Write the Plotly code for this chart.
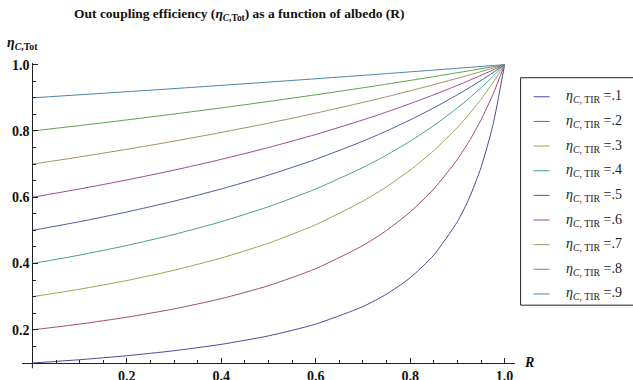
import plotly.graph_objects as go

# ---- data ----
R = [0, 0.1, 0.2, 0.3, 0.4, 0.5, 0.6, 0.7, 0.75, 0.8, 0.85, 0.9, 0.925, 0.95, 0.975, 1.0]

eta_01 = [0.1, 0.1099, 0.1220, 0.1370, 0.1563, 0.1818, 0.2174, 0.2703, 0.3077, 0.3571, 0.4255, 0.5263, 0.5970, 0.6897, 0.8163, 1.0]
eta_02 = [0.2, 0.2174, 0.2381, 0.2632, 0.2941, 0.3333, 0.3846, 0.4545, 0.5, 0.5556, 0.625, 0.7143, 0.7692, 0.8333, 0.9091, 1.0]
eta_03 = [0.3, 0.3226, 0.3488, 0.3797, 0.4167, 0.4615, 0.5172, 0.5882, 0.6316, 0.6818, 0.7407, 0.8108, 0.8511, 0.8955, 0.9449, 1.0]
eta_04 = [0.4, 0.4255, 0.4545, 0.4878, 0.5263, 0.5714, 0.625, 0.6897, 0.7273, 0.7692, 0.8163, 0.8696, 0.8989, 0.9302, 0.9639, 1.0]
eta_05 = [0.5, 0.5263, 0.5556, 0.5882, 0.625, 0.6667, 0.7143, 0.7692, 0.8, 0.8333, 0.8696, 0.9091, 0.9302, 0.9524, 0.9756, 1.0]
eta_06 = [0.6, 0.625, 0.6522, 0.6818, 0.7143, 0.75, 0.7895, 0.8333, 0.8571, 0.8824, 0.9091, 0.9375, 0.9524, 0.9677, 0.9836, 1.0]
eta_07 = [0.7, 0.7216, 0.7447, 0.7692, 0.7955, 0.8235, 0.8537, 0.8861, 0.9032, 0.9211, 0.9396, 0.9589, 0.9689, 0.9790, 0.9894, 1.0]
eta_08 = [0.8, 0.8163, 0.8333, 0.8511, 0.8696, 0.8889, 0.9091, 0.9302, 0.9412, 0.9524, 0.9639, 0.9756, 0.9816, 0.9877, 0.9938, 1.0]
eta_09 = [0.9, 0.9091, 0.9184, 0.9278, 0.9375, 0.9474, 0.9574, 0.9677, 0.9730, 0.9783, 0.9836, 0.9890, 0.9917, 0.9945, 0.9972, 1.0]

series = [eta_01, eta_02, eta_03, eta_04, eta_05, eta_06, eta_07, eta_08, eta_09]
labels = [".1", ".2", ".3", ".4", ".5", ".6", ".7", ".8", ".9"]
colors = ["#4a4a9c", "#a34a78", "#a8a04e", "#4aa08a", "#4a5e9c",
          "#a04a94", "#a3906a", "#5aa34a", "#4a84a8"]

x_ticks = [0.2, 0.4, 0.6, 0.8, 1.0]
y_ticks = [0.2, 0.4, 0.6, 0.8, 1.0]

# ---- layout geometry (pixels) ----
W, H = 633, 380
X0, X1 = -0.022, 1.022
Y0, Y1 = 0.1, 1.005
L, Rm, T, B = 22.4, 117.6, 63.3, 17.3
pw, ph = W - L - Rm, H - T - B

def px(x):
    return (x - L) / pw

def py(y):
    return (H - B - y) / ph

SERIF = "Liberation Serif, Times New Roman, serif"

fig = go.Figure()
for vals, lab, col in zip(series, labels, colors):
    fig.add_trace(go.Scatter(x=R, y=vals, mode="lines", line=dict(color=col, width=1, shape="spline", smoothing=0.6),
                             name=lab, showlegend=False, hoverinfo="skip", cliponaxis=False))

shapes = []
annotations = []
# small extension of the vertical axis below the horizontal one
shapes.append(dict(type="line", xref="paper", yref="paper", x0=px(32.8), x1=px(32.8), y0=py(368), y1=py(362.7),
                   line=dict(color="#222", width=1)))
# legend box
shapes.append(dict(type="rect", xref="paper", yref="paper", x0=px(521), x1=px(660), y0=py(305), y1=py(78),
                   line=dict(color="#222", width=1), fillcolor="white", layer="above"))
for i, (lab, col) in enumerate(zip(labels, colors)):
    yc = 97 + i * 24.6
    shapes.append(dict(type="line", xref="paper", yref="paper", x0=px(534), x1=px(550), y0=py(yc), y1=py(yc),
                       line=dict(color=col, width=1), layer="above"))
    annotations.append(dict(xref="paper", yref="paper", x=px(564), y=py(yc), xanchor="left", yanchor="middle",
                            showarrow=False,
                            text="<i>η</i><sub><i>C</i>, TIR</sub> =" + lab,
                            font=dict(family=SERIF, size=14, color="#222")))

# title, axis labels
annotations.append(dict(xref="paper", yref="paper", x=px(240), y=py(15), xanchor="center", yanchor="middle",
                        showarrow=False,
                        text="<b>Out coupling efficiency (<i>η</i><sub><i>C</i>,Tot</sub>) as a function of albedo (R)</b>",
                        font=dict(family=SERIF, size=13.5, color="#111")))
annotations.append(dict(xref="paper", yref="paper", x=px(5), y=py(44), xanchor="left", yanchor="middle",
                        showarrow=False,
                        text="<b><i>η</i><sub><i>C</i>,Tot</sub></b>",
                        font=dict(family=SERIF, size=14, color="#111")))
annotations.append(dict(xref="paper", yref="paper", x=px(522), y=py(362), xanchor="left", yanchor="middle",
                        showarrow=False, text="<b><i>R</i></b>",
                        font=dict(family=SERIF, size=14, color="#111")))

fig.update_layout(
    width=W, height=H,
    margin=dict(l=L, r=Rm, t=T, b=B, autoexpand=False),
    paper_bgcolor="white", plot_bgcolor="white",
    showlegend=False,
    shapes=shapes, annotations=annotations,
    xaxis=dict(range=[X0, X1], showgrid=False, zeroline=False, showline=True, linecolor="#222", linewidth=1,
               automargin=False,
               tickmode="array", tickvals=x_ticks, ticktext=["<b>%.1f</b>" % v for v in x_ticks],
               ticks="inside", ticklen=5, tickcolor="#222", tickwidth=1,
               minor=dict(tickmode="array", tickvals=[0.05 * k for k in range(1, 21)], ticks="inside", ticklen=3, tickcolor="#222"),
               tickfont=dict(family=SERIF, size=14, color="#111")),
    yaxis=dict(range=[Y0, Y1], showgrid=False, zeroline=False, showline=True, linecolor="#222", linewidth=1,
               automargin=False,
               anchor="free", position=(0 - X0) / (X1 - X0),
               tickmode="array", tickvals=y_ticks, ticktext=["<b>%.1f</b>" % v for v in y_ticks],
               ticks="inside", ticklen=5, tickcolor="#222", tickwidth=1,
               minor=dict(tickmode="array", tickvals=[0.05 * k for k in range(3, 21)], ticks="inside", ticklen=3, tickcolor="#222"),
               tickfont=dict(family=SERIF, size=14, color="#111")),
)

fig.write_html("out.html", config={"displayModeBar": False},
               post_script="document.body.style.margin='0';document.body.style.padding='0';document.body.style.overflow='hidden';")
